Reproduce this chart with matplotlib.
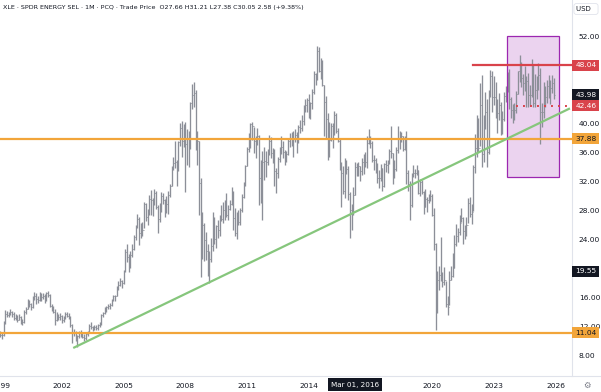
import numpy as np
import matplotlib.pyplot as plt
from matplotlib.patches import Rectangle
from matplotlib.lines import Line2D

# monthly bars, Jan 1999 .. Dec 2025 (one row per year)
start_year = 1999
closes = [
    10.8, 10.7, 12.4, 13.7, 13.5, 13.8, 13.9, 13.6, 13.1, 13.3, 12.9, 13.3,
    12.8, 12.5, 13.9, 14.4, 15.3, 15.0, 14.6, 15.9, 16.2, 15.8, 15.6, 16.4,
    16.0, 16.2, 15.6, 16.5, 16.3, 14.8, 14.6, 14.0, 12.9, 13.5, 13.2, 13.4,
    12.9, 13.1, 13.7, 13.4, 13.2, 12.1, 11.0, 11.2, 10.0, 10.6, 11.0, 10.9,
    10.5, 10.3, 10.9, 11.1, 12.0, 11.8, 11.6, 11.9, 11.7, 12.1, 12.2, 13.5,
    13.8, 14.3, 14.6, 14.8, 14.9, 15.7, 16.1, 16.2, 17.4, 17.7, 18.2, 18.0,
    19.6, 22.2, 21.5, 20.7, 21.8, 22.7, 24.3, 25.7, 26.8, 24.8, 25.9, 25.2,
    28.9, 27.1, 27.2, 29.5, 29.4, 29.4, 30.4, 28.5, 26.8, 28.1, 29.9, 29.4,
    28.4, 28.8, 30.1, 31.3, 33.9, 34.5, 34.7, 34.0, 37.4, 39.4, 37.5, 39.7,
    37.2, 37.9, 37.1, 42.8, 43.9, 44.2, 37.2, 37.5, 31.7, 25.8, 26.0, 23.9,
    22.4, 20.3, 21.2, 23.1, 25.9, 24.0, 25.8, 25.3, 27.0, 26.8, 28.1, 28.5,
    27.4, 28.2, 28.8, 30.3, 26.9, 24.8, 27.3, 26.4, 28.0, 29.8, 31.6, 34.1,
    36.4, 38.1, 39.9, 39.6, 37.5, 37.6, 38.3, 32.4, 29.2, 34.6, 34.8, 34.6,
    35.7, 37.6, 35.9, 36.2, 33.4, 33.2, 35.1, 36.0, 36.7, 36.1, 35.0, 35.7,
    37.6, 37.9, 38.5, 37.8, 38.4, 37.4, 39.5, 39.3, 40.3, 42.2, 42.6, 43.2,
    41.2, 42.8, 44.3, 46.8, 46.2, 50.0, 47.3, 48.2, 45.3, 43.0, 40.6, 40.0,
    37.7, 39.6, 38.8, 41.2, 38.9, 37.6, 34.2, 33.2, 30.6, 34.1, 33.7, 30.2,
    28.0, 27.47, 30.05, 34.0, 33.8, 34.1, 33.4, 34.7, 35.3, 34.6, 37.3, 37.7,
    37.3, 35.0, 34.9, 34.0, 32.5, 32.4, 33.9, 31.3, 34.4, 34.3, 34.7, 36.2,
    35.9, 33.7, 33.7, 36.3, 37.9, 37.9, 38.3, 36.5, 37.9, 33.2, 31.6, 28.7,
    32.8, 33.1, 33.1, 33.5, 30.4, 31.9, 30.5, 28.5, 29.6, 29.4, 29.6, 30.0,
    27.4, 23.4, 14.5, 18.4, 19.1, 18.9, 18.1, 18.3, 15.0, 14.7, 18.4, 18.9,
    20.0, 23.4, 24.5, 25.0, 26.3, 26.9, 25.1, 25.3, 26.0, 29.0, 27.5, 27.7,
    34.0, 36.6, 38.2, 36.6, 42.5, 35.7, 40.9, 41.6, 36.1, 43.9, 46.5, 43.7,
    43.7, 42.4, 41.4, 42.5, 38.8, 40.6, 43.8, 44.5, 45.2, 43.4, 41.9, 41.9,
    41.9, 44.0, 47.2, 47.3, 46.3, 45.6, 45.5, 45.9, 43.9, 43.9, 47.8, 42.8,
    44.6, 45.3, 46.7, 41.5, 41.5, 42.4, 43.6, 45.1, 44.6, 44.9, 45.6, 43.98,
]
highs = [
    11.3, 11.0, 12.7, 14.2, 14.1, 14.0, 14.3, 14.1, 13.9, 13.6, 13.5, 13.6,
    13.4, 13.0, 14.2, 14.7, 15.7, 15.6, 15.2, 16.1, 16.7, 16.5, 16.1, 16.7,
    16.6, 16.5, 16.4, 16.7, 16.8, 16.4, 15.1, 14.8, 14.3, 13.9, 13.7, 13.8,
    13.5, 13.4, 13.9, 13.9, 13.8, 13.4, 12.3, 11.6, 11.3, 10.8, 11.3, 11.4,
    11.1, 10.9, 11.2, 11.3, 12.3, 12.5, 12.0, 12.2, 12.2, 12.3, 12.5, 13.6,
    14.0, 14.6, 14.8, 15.1, 15.2, 15.8, 16.3, 16.3, 17.5, 18.2, 18.6, 18.3,
    19.8, 22.6, 23.3, 22.0, 22.3, 23.4, 24.6, 25.9, 27.5, 27.1, 26.2, 26.4,
    29.2, 29.0, 28.2, 30.1, 30.8, 29.7, 30.9, 30.7, 28.7, 29.0, 30.5, 30.4,
    29.6, 29.9, 30.6, 31.6, 34.1, 35.3, 37.5, 35.0, 37.5, 40.1, 40.3, 39.9,
    40.2, 39.2, 38.9, 43.0, 45.4, 45.7, 44.6, 38.9, 37.5, 32.5, 27.8, 26.3,
    25.0, 23.4, 22.3, 24.1, 27.7, 27.0, 26.0, 26.6, 27.4, 28.7, 29.2, 29.4,
    30.4, 28.7, 29.4, 31.2, 30.6, 28.3, 27.8, 28.0, 28.3, 30.2, 31.9, 34.2,
    36.8, 38.7, 40.0, 40.2, 39.5, 38.3, 39.3, 38.4, 34.9, 36.2, 36.8, 36.2,
    36.5, 38.4, 38.1, 36.6, 36.5, 33.9, 35.4, 36.7, 38.2, 37.6, 36.3, 36.2,
    38.0, 38.7, 38.8, 38.9, 39.2, 38.8, 39.8, 40.4, 41.2, 42.5, 43.3, 43.5,
    44.1, 43.0, 44.8, 47.2, 46.9, 50.7, 50.5, 49.0, 48.8, 45.3, 43.8, 41.4,
    40.2, 40.1, 40.0, 41.7, 41.4, 39.4, 37.9, 34.7, 34.1, 35.2, 35.0, 34.1,
    30.5, 28.9, 31.21, 34.6, 34.5, 34.7, 34.1, 35.2, 35.8, 36.0, 38.3, 39.2,
    38.3, 37.5, 35.6, 35.2, 34.5, 33.6, 34.4, 33.9, 34.5, 34.9, 35.0, 36.5,
    39.6, 35.9, 34.9, 36.8, 39.7, 38.9, 38.8, 38.3, 38.3, 38.9, 33.6, 32.1,
    33.2, 34.3, 33.7, 34.2, 33.5, 32.3, 32.2, 30.6, 31.0, 29.8, 30.2, 30.8,
    30.2, 28.3, 23.5, 19.6, 20.3, 24.3, 19.4, 20.1, 18.2, 16.2, 19.6, 20.3,
    22.1, 24.6, 26.1, 25.6, 27.3, 28.3, 27.0, 26.0, 27.1, 29.7, 29.8, 28.8,
    34.3, 38.5, 41.2, 40.8, 45.6, 46.7, 41.2, 44.3, 43.3, 44.6, 47.4, 47.2,
    46.6, 45.7, 43.4, 44.2, 42.9, 41.7, 44.3, 45.1, 47.1, 47.5, 43.7, 42.7,
    42.8, 44.5, 47.3, 49.5, 48.5, 46.8, 47.9, 46.6, 46.9, 45.3, 48.9, 48.0,
    46.8, 46.6, 48.4, 47.6, 42.8, 45.7, 45.1, 46.0, 46.7, 46.0, 46.7, 46.3,
]
lows = [
    10.5, 10.2, 10.6, 12.3, 13.2, 13.2, 13.5, 13.2, 12.8, 12.8, 12.6, 12.8,
    12.3, 12.1, 12.4, 13.6, 14.3, 14.7, 14.2, 14.5, 15.6, 15.1, 15.2, 15.4,
    15.4, 15.7, 15.2, 15.4, 16.0, 14.6, 14.1, 13.8, 12.1, 12.7, 12.8, 12.8,
    12.4, 12.5, 13.0, 13.2, 13.0, 11.9, 9.6, 10.6, 9.9, 9.1, 10.4, 10.5,
    10.4, 10.0, 10.1, 10.6, 11.0, 11.6, 11.3, 11.4, 11.5, 11.4, 11.8, 12.2,
    13.2, 13.7, 13.9, 14.3, 14.3, 14.8, 15.5, 15.5, 16.1, 17.0, 17.5, 17.3,
    17.8, 19.4, 20.8, 19.4, 20.0, 21.6, 22.5, 23.9, 25.6, 23.2, 24.1, 24.5,
    25.6, 26.5, 26.0, 27.3, 27.4, 27.2, 28.7, 28.2, 24.8, 26.4, 27.8, 28.9,
    27.0, 27.6, 27.5, 29.8, 31.3, 33.5, 33.8, 31.3, 33.4, 36.9, 35.3, 36.7,
    30.5, 34.3, 34.0, 36.4, 42.0, 42.2, 36.3, 34.3, 27.4, 18.8, 21.3, 21.0,
    21.1, 18.9, 18.0, 20.9, 22.4, 23.3, 22.8, 24.2, 24.4, 26.5, 26.3, 26.6,
    27.1, 26.6, 28.0, 28.7, 25.2, 24.4, 24.0, 25.9, 25.9, 27.7, 29.7, 31.4,
    34.1, 36.0, 36.6, 37.7, 35.9, 35.2, 37.0, 28.7, 29.0, 26.6, 32.2, 32.6,
    34.3, 35.6, 35.2, 34.5, 31.4, 30.4, 32.5, 34.6, 35.8, 35.2, 34.2, 34.6,
    35.6, 36.7, 36.9, 35.4, 37.4, 35.9, 37.3, 38.6, 38.9, 39.8, 41.6, 41.5,
    40.8, 40.6, 42.0, 44.1, 45.3, 46.0, 47.1, 46.1, 45.1, 38.3, 37.8, 35.0,
    35.3, 37.5, 36.6, 38.4, 38.6, 37.4, 33.6, 28.4, 30.3, 29.7, 33.0, 29.4,
    24.1, 25.2, 27.38, 30.1, 32.7, 32.7, 32.0, 32.9, 33.0, 34.0, 33.9, 37.2,
    36.6, 34.7, 33.5, 33.2, 31.8, 31.1, 32.1, 30.7, 31.2, 33.3, 33.2, 34.4,
    35.2, 31.6, 32.5, 33.4, 35.9, 36.4, 37.4, 36.2, 36.3, 31.6, 30.6, 26.6,
    28.5, 32.6, 32.4, 32.8, 30.3, 30.0, 30.2, 27.5, 28.5, 27.8, 29.0, 29.3,
    27.2, 22.5, 11.4, 13.8, 17.0, 18.2, 17.4, 17.7, 14.7, 13.5, 14.9, 18.3,
    18.8, 20.0, 23.0, 23.6, 24.6, 26.4, 23.4, 24.0, 24.4, 26.3, 27.0, 26.1,
    27.9, 33.2, 35.3, 36.0, 36.9, 34.0, 34.6, 39.2, 34.0, 35.8, 43.7, 41.5,
    42.6, 40.7, 38.6, 40.5, 38.4, 38.5, 40.3, 43.0, 44.4, 42.0, 40.7, 40.1,
    40.4, 41.4, 44.1, 45.7, 45.0, 43.9, 44.5, 42.2, 42.2, 42.4, 43.6, 42.3,
    42.3, 43.4, 44.6, 37.2, 39.5, 40.8, 42.2, 42.8, 43.5, 42.7, 44.2, 43.4,
]

# drawn levels and shapes
support_level = 37.88
base_level = 11.04
resistance_level = 48.04
mid_level = 42.46
last_price = 43.98
cursor_price = 19.55
trend_x = [2002.55, 2026.70]
trend_y = [8.97, 42.07]
resistance_from = 2021.98
mid_from = 2024.07
zone_x = (2023.63, 2026.16)
zone_y = (32.6, 52.0)

# 2017, 20, 44 and 48 sit under the tags, so they are not shown
year_ticks = [1999, 2002, 2005, 2008, 2011, 2014, 2020, 2023, 2026]
price_ticks = [8, 12, 16, 24, 28, 32, 36, 40, 52]
title = ("XLE · SPDR ENERGY SEL · 1M · PCQ · Trade Price  "
         "O27.66 H31.21 L27.38 C30.05 2.58 (+9.38%)")

W, H = 601, 392
fig = plt.figure(figsize=(W / 100, H / 100), dpi=100)
ax = fig.add_axes([0, 16 / H, 572 / W, 376 / H])

x = start_year + np.arange(len(closes)) / 12
c = np.array(closes)
o = np.concatenate([[c[0]], c[:-1]])
bar_col = '#8c8f98'
ax.vlines(x, lows, highs, color=bar_col, linewidth=0.95, zorder=3)
ax.hlines(o, x - 0.04, x, color=bar_col, linewidth=0.6, zorder=3)
ax.hlines(c, x, x + 0.04, color=bar_col, linewidth=0.6, zorder=3)

ax.add_patch(Rectangle((zone_x[0], zone_y[0]), zone_x[1] - zone_x[0], zone_y[1] - zone_y[0],
                       facecolor='#9c27b0', alpha=0.2, edgecolor='none', zorder=1))
ax.add_patch(Rectangle((zone_x[0], zone_y[0]), zone_x[1] - zone_x[0], zone_y[1] - zone_y[0],
                       facecolor='none', edgecolor='#9c27b0', linewidth=0.9, zorder=4))

ax.axhline(support_level, color='#f2a53a', linewidth=1.6, zorder=4)
ax.axhline(base_level, color='#f2a53a', linewidth=1.6, zorder=4)
ax.plot([resistance_from, 2030], [resistance_level] * 2, color='#d9434b', linewidth=1.6, zorder=4)
ax.plot([mid_from, 2030], [mid_level] * 2, color='#d9434b', linewidth=1.4,
        linestyle=(0, (1, 2.6)), zorder=4)
ax.plot(trend_x, trend_y, color='#86c67c', linewidth=1.6, zorder=4, solid_capstyle='butt')

ax.set_xlim(1998.99, 2026.80)
ax.set_ylim(5.10, 57.04)
for s in ['top', 'left', 'bottom']:
    ax.spines[s].set_visible(False)
ax.spines['right'].set_color('#e0e3eb')
ax.spines['right'].set_linewidth(0.8)

ax.yaxis.tick_right()
ax.set_yticks(price_ticks)
ax.set_yticklabels([f'{v:.2f}' for v in price_ticks])
ax.set_xticks(year_ticks)
ax.set_xticklabels([str(v) for v in year_ticks])
ax.tick_params(length=0, labelsize=5.4, labelcolor='#131722')
ax.tick_params(axis='y', pad=5)
ax.tick_params(axis='x', pad=5)

# price labels on the axis
tags = [(resistance_level, '#d9434b', 'white'), (last_price, '#131722', 'white'),
        (mid_level, '#d9434b', 'white'), (support_level, '#f2a53a', '#131722'),
        (cursor_price, '#131722', 'white'), (base_level, '#f2a53a', '#131722')]
ytr = ax.get_yaxis_transform()
ppu = 376 / (57.04 - 5.10)
for val, bg, fg in tags:
    h = 11 / ppu
    ax.add_patch(Rectangle((1.0, val - h / 2), 27 / 572, h, transform=ytr,
                           facecolor=bg, edgecolor='none', clip_on=False, zorder=6))
    ax.text(1.0 + 14 / 572, val, f'{val:.2f}', transform=ytr, ha='center', va='center',
            fontsize=5.4, color=fg, clip_on=False, zorder=7)

# bottom separator
fig.add_artist(Line2D([0, 1], [16 / H, 16 / H], color='#e0e3eb', linewidth=0.8))

# crosshair date tag
fig.text(355 / W, 1 - 384.5 / H, 'Mar 01, 2016', ha='center', va='center', fontsize=5.2,
         color='white', bbox=dict(boxstyle='square,pad=0.45', facecolor='#131722',
                                  edgecolor='none'))

fig.text(3 / W, 1 - 8 / H, title, ha='left', va='center', fontsize=4.6, color='#131722')

# currency button and settings icon
fig.text(586 / W, 1 - 9 / H, 'USD  ', ha='center', va='center', fontsize=5.0, color='#131722',
         bbox=dict(boxstyle='round,pad=0.35', facecolor='white', edgecolor='#e0e3eb',
                   linewidth=0.6))
fig.add_artist(Line2D([593.5 / W, 595 / W, 596.5 / W],
                      [1 - 8 / H, 1 - 9.5 / H, 1 - 8 / H], color='#131722', linewidth=0.5))
fig.text(587 / W, 1 - 385 / H, '⚙', ha='center', va='center', fontsize=6, color='#787b86')

fig.savefig('out.png', dpi=100)
